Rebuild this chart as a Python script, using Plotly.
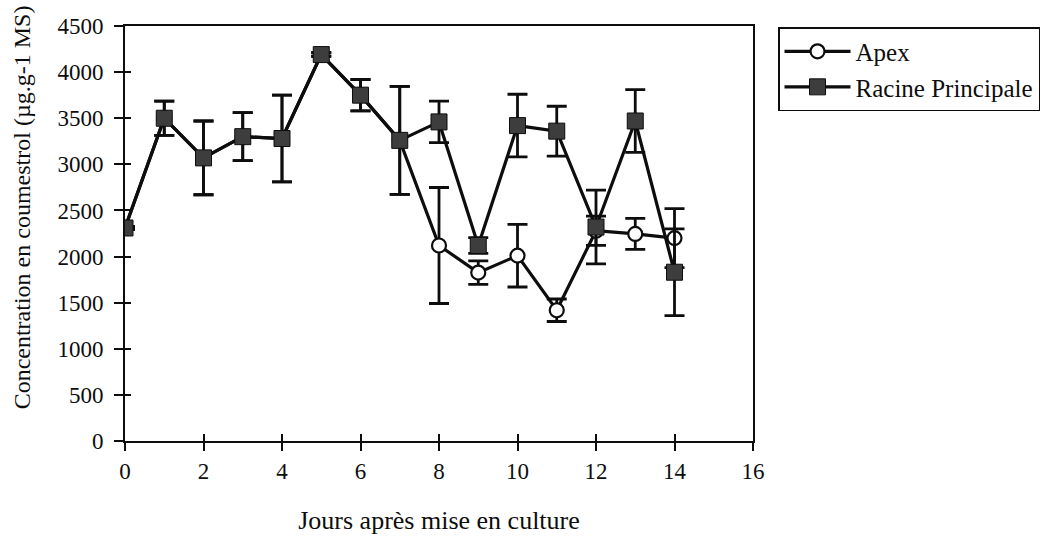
import plotly.graph_objects as go

# Days after culture start
days = list(range(15))

# Coumestrol concentration (µg.g-1 MS) and standard errors
racine = [2310, 3500, 3070, 3300, 3280, 4190, 3750, 3260, 3460, 2120, 3420, 3360, 2320, 3470, 1830]
racine_err = [15, 185, 400, 260, 470, 20, 170, 585, 225, 85, 340, 270, 400, 340, 470]

apex = [2310, 3500, 3070, 3300, 3280, 4190, 3750, 3260, 2120, 1826, 2010, 1418, 2280, 2245, 2200]
apex_err = [15, 185, 400, 260, 470, 20, 170, 585, 629, 128, 340, 122, 158, 168, 320]

x_ticks = [0, 2, 4, 6, 8, 10, 12, 14, 16]
y_ticks = [0, 500, 1000, 1500, 2000, 2500, 3000, 3500, 4000, 4500]

FONT = "Liberation Serif"
INK = "#0d0d0d"

fig = go.Figure()

fig.add_trace(go.Scatter(
    x=days, y=apex, name="Apex", mode="lines+markers",
    line=dict(color=INK, width=3.2),
    marker=dict(symbol="circle", size=14, color="white", line=dict(color=INK, width=2.2)),
    error_y=dict(type="data", array=apex_err, visible=True, color=INK, thickness=2.8, width=10),
))

fig.add_trace(go.Scatter(
    x=days, y=racine, name="Racine Principale", mode="lines+markers",
    line=dict(color=INK, width=3.2),
    marker=dict(symbol="square", size=16, color="#3d3d3d", line=dict(color=INK, width=1)),
    error_y=dict(type="data", array=racine_err, visible=True, color=INK, thickness=2.8, width=10),
))

# transparent carriers so the overlay axes (inner ticks, y labels) get drawn
for xa, ya in (("x2", "y2"), ("x", "y3")):
    fig.add_trace(go.Scatter(
        x=days, y=racine, xaxis=xa, yaxis=ya, mode="markers",
        marker=dict(opacity=0), showlegend=False, hoverinfo="skip",
    ))

fig.update_layout(
    width=1046, height=542,
    margin=dict(l=125, r=293, t=26, b=95),
    paper_bgcolor="white", plot_bgcolor="white",
    font=dict(family=FONT, color=INK, size=23),
    showlegend=True,
    legend=dict(
        xref="container", yref="container",
        x=0.7438, y=0.950, xanchor="left", yanchor="top",
        bordercolor=INK, borderwidth=1.5, bgcolor="white",
        font=dict(family=FONT, size=25, color=INK),
        tracegroupgap=0, itemwidth=66,
    ),
    xaxis=dict(
        range=[0, 16], tickvals=x_ticks, ticktext=[str(v) for v in x_ticks],
        showgrid=False, zeroline=False,
        showline=True, linecolor=INK, linewidth=2.2, mirror=True,
        ticks="outside", ticklen=8, tickwidth=1.5, tickcolor=INK,
        ticklabelstandoff=0,
        title=dict(text="Jours après mise en culture", font=dict(family=FONT, size=26), standoff=28),
    ),
    # main y axis: frame line and outer halves of the tick marks
    yaxis=dict(
        range=[0, 4500], tickvals=y_ticks, showticklabels=False,
        showgrid=False, zeroline=False,
        showline=True, linecolor=INK, linewidth=2.2, mirror=True,
        ticks="outside", ticklen=9, tickwidth=1.5, tickcolor=INK,
    ),
    # inner halves of the crossing tick marks
    xaxis2=dict(
        overlaying="x", matches="x", anchor="y2", side="bottom",
        range=[0, 16], tickvals=x_ticks, showticklabels=False,
        ticks="inside", ticklen=7, tickwidth=1.5, tickcolor=INK,
        showgrid=False, zeroline=False, showline=False,
    ),
    yaxis2=dict(
        overlaying="y", matches="y", anchor="x2", side="left",
        range=[0, 4500], tickvals=y_ticks, showticklabels=False,
        ticks="inside", ticklen=6, tickwidth=1.5, tickcolor=INK,
        showgrid=False, zeroline=False, showline=False,
    ),
    # y tick labels, set a little further out from the axis line
    yaxis3=dict(
        overlaying="y", matches="y", anchor="x", side="left",
        range=[0, 4500], tickvals=y_ticks, ticktext=[str(v) for v in y_ticks],
        ticks="outside", ticklen=16, tickcolor="rgba(0,0,0,0)",
        showgrid=False, zeroline=False, showline=False,
        tickfont=dict(family=FONT, size=23, color=INK),
    ),
    annotations=[dict(
        text="Concentration en coumestrol (µg.g-1 MS)",
        xref="paper", yref="paper", x=-0.164, y=0.563,
        xanchor="center", yanchor="middle", textangle=-90, showarrow=False,
        font=dict(family=FONT, size=24, color=INK),
    )],
)

fig.write_html("out.html")
